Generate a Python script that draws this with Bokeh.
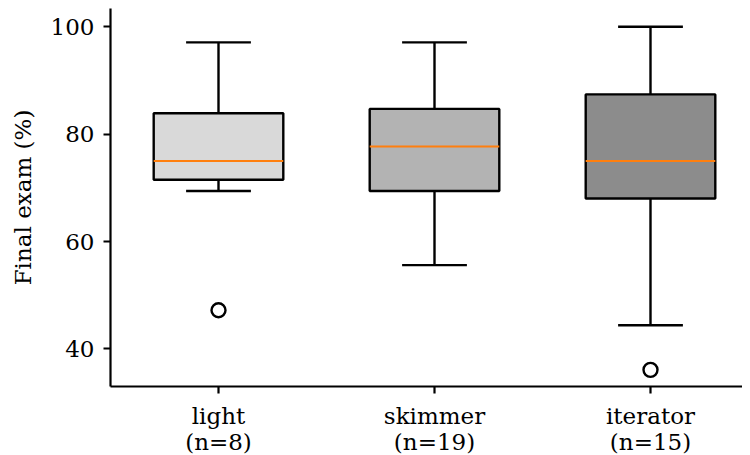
from bokeh.plotting import figure
from bokeh.models import Range1d, FixedTicker, ColumnDataSource
from bokeh.embed import file_html
from bokeh.resources import INLINE

# ---- data ----
categories = ["light", "skimmer", "iterator"]
counts = [8, 19, 15]
whisker_low = [69.4, 55.6, 44.4]
q1 = [71.5, 69.4, 68.0]
median = [75.0, 77.7, 75.0]
q3 = [83.9, 84.7, 87.4]
whisker_high = [97.1, 97.1, 100.0]
outlier_cat = ["light", "iterator"]
outlier_val = [47.2, 36.1]
box_colors = ["#d9d9d9", "#b3b3b3", "#8c8c8c"]
y_ticks = [40, 60, 80, 100]

FONT = "DejaVu Serif"
FS = "23px"
LW = 2.4
pos = {c: i + 1 for i, c in enumerate(categories)}
xs = [pos[c] for c in categories]
bw = 0.6
cw = 0.3

src = ColumnDataSource(dict(
    x=xs,
    left=[x - bw / 2 for x in xs], right=[x + bw / 2 for x in xs],
    cl=[x - cw / 2 for x in xs], cr=[x + cw / 2 for x in xs],
    wl=whisker_low, q1=q1, med=median, q3=q3, wh=whisker_high,
    color=box_colors,
))

p = figure(frame_width=632, frame_height=378, output_backend="svg", toolbar_location=None,
           x_range=Range1d(0.5, 0.5 + 632 / 216), y_range=Range1d(33.0, 103.4),
           min_border_left=110, min_border_right=0, min_border_top=8, min_border_bottom=0)
p.outline_line_color = None
p.xgrid.visible = False
p.ygrid.visible = False
p.background_fill_color = "white"

# whiskers
p.segment(x0="x", y0="q3", x1="x", y1="wh", source=src, line_color="black", line_width=LW)
p.segment(x0="x", y0="wl", x1="x", y1="q1", source=src, line_color="black", line_width=LW)
# caps
p.segment(x0="cl", y0="wh", x1="cr", y1="wh", source=src, line_color="black", line_width=LW)
p.segment(x0="cl", y0="wl", x1="cr", y1="wl", source=src, line_color="black", line_width=LW)
# boxes
p.quad(left="left", right="right", bottom="q1", top="q3", source=src,
       fill_color="color", line_color="black", line_width=LW)
# medians
p.segment(x0="left", y0="med", x1="right", y1="med", source=src, line_color="#ff7f0e", line_width=2.2)
# outliers
p.scatter([pos[c] for c in outlier_cat], outlier_val, marker="circle", size=14,
          fill_color=None, line_color="black", line_width=2.4)

# axes
p.xaxis.ticker = FixedTicker(ticks=xs)
p.xaxis.major_label_overrides = {x: f"{c}\n(n={n})" for x, c, n in zip(xs, categories, counts)}
p.yaxis.ticker = FixedTicker(ticks=y_ticks)
p.yaxis.axis_label = "Final exam (%)"
for ax in (p.xaxis[0], p.yaxis[0]):
    ax.axis_line_color = "black"
    ax.axis_line_width = 2.2
    ax.major_tick_line_color = "black"
    ax.major_tick_line_width = 2.2
    ax.major_tick_out = 7
    ax.major_tick_in = 0
    ax.minor_tick_line_color = None
    ax.major_label_text_font = FONT
    ax.major_label_text_font_size = FS
    ax.major_label_text_color = "black"
    ax.axis_label_text_font = FONT
    ax.axis_label_text_font_size = FS
    ax.axis_label_text_font_style = "normal"
    ax.axis_label_text_color = "black"
p.xaxis.major_label_text_line_height = 1.0
p.yaxis.major_label_standoff = 9
p.xaxis.major_label_standoff = 9
p.yaxis.axis_label_standoff = 12

open("out.html", "w").write(file_html(p, INLINE))
